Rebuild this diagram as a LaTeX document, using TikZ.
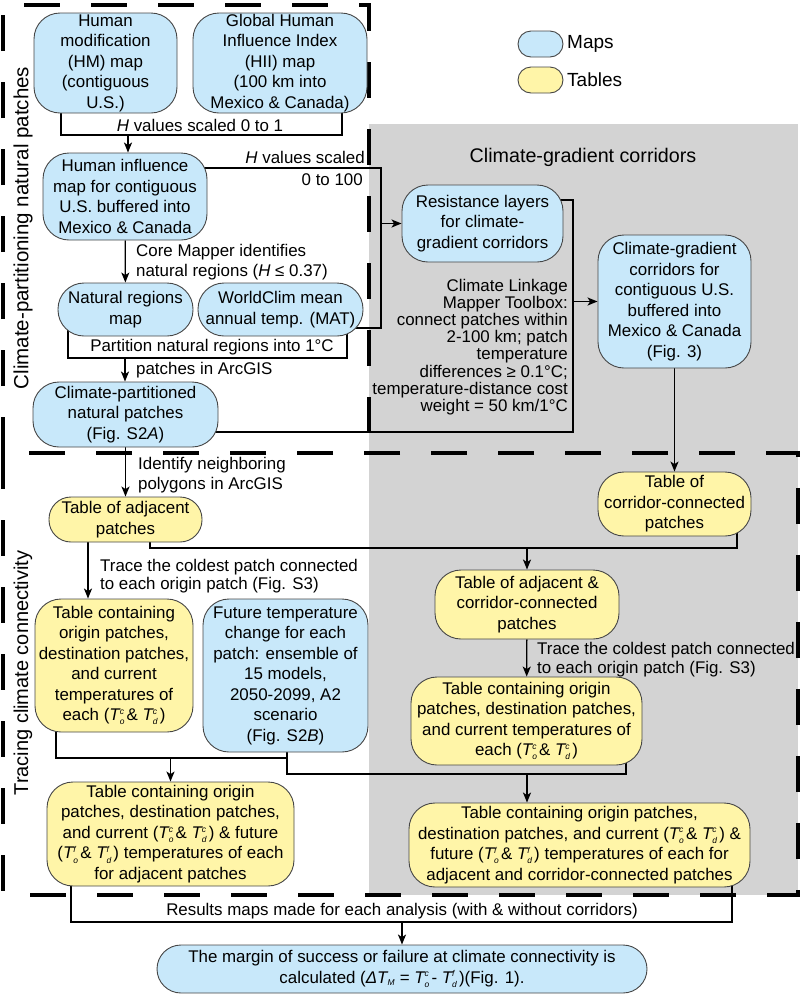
\documentclass[tikz,border=0pt]{standalone}
\usepackage{fontspec}
\setmainfont{Liberation Sans}
\usetikzlibrary{arrows.meta}
\definecolor{mapblue}{RGB}{200,232,250}
\definecolor{tabyellow}{RGB}{255,245,168}
\definecolor{graybg}{RGB}{211,211,211}
\definecolor{boxline}{RGB}{70,70,70}
\newcommand{\Tv}[2]{$\mathit{T}_{\scriptscriptstyle\mathit{#1}}^{\scriptscriptstyle\mathit{#2}}$\kern0.1em}
\pgfdeclarelayer{bgl}
\pgfdeclarelayer{connl}
\pgfsetlayers{bgl,connl,main}
\tikzset{
 boxbase/.style={draw=boxline, line width=0.9pt, rounded corners=26pt, align=center, inner sep=0pt, font=\fontsize{16.9}{20.5}\selectfont},
 mapbox/.style={boxbase, fill=mapblue},
 tabbox/.style={boxbase, fill=tabyellow},
 lbl/.style={inner sep=0pt, font=\fontsize{16.9}{20.5}\selectfont},
 cline/.style={line width=1.3pt, draw=black},
 arr/.style={cline, -{Stealth[length=10pt,width=8pt,inset=2.5pt]}},
 dashbox/.style={line width=3.5pt, dash pattern=on 36pt off 31pt},
}
\begin{document}
\begin{tikzpicture}[x=1pt,y=-1pt]
\useasboundingbox (0,0) rectangle (802,994);
% ---------- nodes ----------
\node[mapbox, minimum width=143pt, minimum height=100pt] (hm) at (105.5,63) {Human\\modification\\(HM) map\\(contiguous\\U.S.)};
\node[mapbox, minimum width=174pt, minimum height=100pt] (hii) at (280,63) {Global Human\\Influence Index\\(HII) map\\(100 km into\\Mexico \& Canada)};
\node[mapbox, minimum width=164pt, minimum height=87pt] (hi) at (125,196.5) {Human influence\\map for contiguous\\U.S. buffered into\\Mexico \& Canada};
\node[mapbox, minimum width=135pt, minimum height=53pt] (nr) at (125.5,309.5) {Natural regions\\map};
\node[mapbox, minimum width=165pt, minimum height=53pt] (wc) at (280.5,309.5) {WorldClim mean\\annual temp. (MAT)};
\node[mapbox, minimum width=185pt, minimum height=65pt] (cp) at (125.5,414.5) {Climate-partitioned\\natural patches\\(Fig. S2\textit{A})};
\node[mapbox, minimum width=161pt, minimum height=77pt] (rl) at (482.5,223.5) {Resistance layers\\for climate-\\gradient corridors};
\node[mapbox, minimum width=153pt, minimum height=133pt] (cgc) at (674.5,301.5) {Climate-gradient\\corridors for\\contiguous U.S.\\buffered into\\Mexico \& Canada\\(Fig. 3)};
\node[tabbox, rounded corners=22pt, minimum width=153pt, minimum height=45pt] (ta) at (125.5,519.5) {Table of adjacent\\patches};
\node[tabbox, minimum width=153pt, minimum height=64pt] (tc) at (674.5,504) {Table of\\corridor-connected\\patches};
\node[tabbox, minimum width=184pt, minimum height=69pt] (tac) at (527,604.5) {Table of adjacent \&\\corridor-connected\\patches};
\node[tabbox, minimum width=158pt, minimum height=133pt] (tol) at (114,665.5) {Table containing\\origin patches,\\destination patches,\\and current\\temperatures of\\each (\Tv{o}{c}\& \Tv{d}{c})};
\node[mapbox, minimum width=165pt, minimum height=153pt] (ft) at (285.5,675.5) {Future temperature\\change for each\\patch: ensemble of\\15 models,\\2050-2099, A2\\scenario\\(Fig. S2\textit{B})};
\node[tabbox, minimum width=231pt, minimum height=88pt] (tor) at (526.5,721) {Table containing origin\\patches, destination patches,\\and current temperatures of\\each (\Tv{o}{c}\& \Tv{d}{c})};
\node[tabbox, minimum width=247pt, minimum height=104pt] (tfl) at (170.5,834) {Table containing origin\\patches, destination patches,\\and current (\Tv{o}{c}\& \Tv{d}{c}) \& future\\(\Tv{o}{f}\& \Tv{d}{f}) temperatures of each\\for adjacent patches};
\node[tabbox, minimum width=341pt, minimum height=84pt] (tfr) at (579.5,845) {Table containing origin patches,\\destination patches, and current (\Tv{o}{c}\& \Tv{d}{c}) \&\\future (\Tv{o}{f}\& \Tv{d}{f}) temperatures of each for\\adjacent and corridor-connected patches};
\node[mapbox, rounded corners=24pt, minimum width=490pt, minimum height=48pt] (fin) at (402,969) {The margin of success or failure at climate connectivity is\\calculated (\textit{Δ}$\mathit{T}_{\scriptscriptstyle\mathit{M}}$ = \Tv{o}{c}- \Tv{d}{f})(Fig. 1).};
% legend
\node[mapbox, rounded corners=13pt, minimum width=45pt, minimum height=26pt] (lm) at (540.5,44) {};
\node[tabbox, rounded corners=13pt, minimum width=45pt, minimum height=26pt] (lt) at (540.5,80) {};
\node[lbl, font=\fontsize{19}{22}\selectfont, anchor=west] (lmt) at (567,44) {Maps};
\node[lbl, font=\fontsize{19}{22}\selectfont, anchor=west] (ltt) at (567,80) {Tables};
% labels
\node[lbl, font=\fontsize{20.5}{22}\selectfont, rotate=90] (lab1) at (23,228) {Climate-partitioning natural patches};
\node[lbl, font=\fontsize{20}{22}\selectfont, rotate=90] (lab2) at (23,673) {Tracing climate connectivity};
\node[lbl, font=\fontsize{19.7}{22}\selectfont] (lab3) at (583,157) {Climate-gradient corridors};
\node[lbl] (t1) at (200,125) {\textit{H} values scaled 0 to 1};
\node[lbl, anchor=east] (t2) at (365,157) {\textit{H} values scaled};
\node[lbl, anchor=east] (t3) at (363,180) {0 to 100};
\node[lbl, anchor=west, align=left] (t4) at (136,262) {Core Mapper identifies\\natural regions (\textit{H} ≤ 0.37)};
\node[lbl] (t5) at (212,347) {Partition natural regions into 1°C};
\node[lbl, anchor=west] (t6) at (136,370) {patches in ArcGIS};
\node[lbl, anchor=east, align=right, font=\fontsize{16.9}{17.1}\selectfont] (t7) at (568,347) {Climate Linkage\\Mapper Toolbox:\\connect patches within\\2-100 km; patch\\temperature\\differences ≥ 0.1°C;\\temperature-distance cost\\weight = 50 km/1°C};
\node[lbl, anchor=west, align=left] (t8) at (138,475) {Identify neighboring\\polygons in ArcGIS};
\node[lbl, anchor=west, align=left, font=\fontsize{16.9}{18}\selectfont] (t9) at (100,576) {Trace the coldest patch connected\\to each origin patch (Fig. S3)};
\node[lbl, anchor=west, align=left, font=\fontsize{16.9}{19}\selectfont] (t10) at (537,659.5) {Trace the coldest patch connected\\to each origin patch (Fig. S3)};
\node[lbl] (t11) at (402,911) {Results maps made for each analysis (with \& without corridors)};
% ---------- background ----------
\begin{pgfonlayer}{bgl}
\fill[graybg] (369,124) rectangle (798,895);
\draw[dashbox] (3,453) -- (3,5) -- (369,5) -- (369,453);
\draw[dashbox] (3,453) rectangle (798,895);
\end{pgfonlayer}
% ---------- connectors ----------
\begin{pgfonlayer}{connl}
\coordinate (a1) at (61,135); \coordinate (a2) at (342,135); \coordinate (a3) at (128,135);
\draw[cline] (hm.center -| a1) -- (a1) -- (a2) -- (hii.center -| a2);
\draw[arr] (a3) -- (a3 |- hi.north);
\coordinate (b1) at (381,168); \coordinate (b2) at (381,328);
\draw[cline] (hi.center |- b1) -- (b1) -- (b2) -- (wc.center |- b2);
\draw[arr] (b1 |- rl.west) -- (rl.west);
\draw[arr] (hi) -- (nr);
\coordinate (c1) at (68,358); \coordinate (c2) at (347,358); \coordinate (c3) at (125,358);
\draw[cline] (nr.center -| c1) -- (c1) -- (c2) -- (wc.center -| c2);
\draw[arr] (c3) -- (c3 |- cp.north);
\coordinate (d1) at (573,432); \coordinate (d2) at (573,200);
\draw[cline] (cp.center |- d1) -- (d1) -- (d2) -- (rl.center |- d2);
\draw[arr] (d1 |- cgc.west) -- (cgc.west);
\draw[arr] (cp) -- (ta);
\draw[arr] (cgc) -- (tc);
\coordinate (e1) at (150,548); \coordinate (e2) at (737,548); \coordinate (e3) at (88,548);
\draw[cline] (ta.center -| e1) -- (e1) -- (e2) -- (tc.center -| e2);
\draw[arr] (tac.north |- e1) -- (tac.north);
\draw[arr] (ta.south -| e3) -- (tol.north -| e3);
\draw[arr] (tac) -- (tor);
\coordinate (f1) at (56,758); \coordinate (f2) at (287,758);
\draw[cline] (tol.center -| f1) -- (f1) -- (f2) -- (ft.center -| f2);
\draw[arr] (tfl.north |- f1) -- (tfl.north);
\coordinate (g1) at (287,774); \coordinate (g2) at (626,774); \coordinate (g3) at (527,774);
\draw[cline] (ft.center -| g1) -- (g1) -- (g2) -- (tor.center -| g2);
\draw[arr] (g3) -- (g3 |- tfr.north);
\coordinate (h1) at (71,922); \coordinate (h2) at (732,922); \coordinate (h3) at (402,922);
\draw[cline] (tfl.center -| h1) -- (h1) -- (h2) -- (tfr.center -| h2);
\draw[arr] (h3) -- (h3 |- fin.north);
\end{pgfonlayer}
\end{tikzpicture}
\end{document}
